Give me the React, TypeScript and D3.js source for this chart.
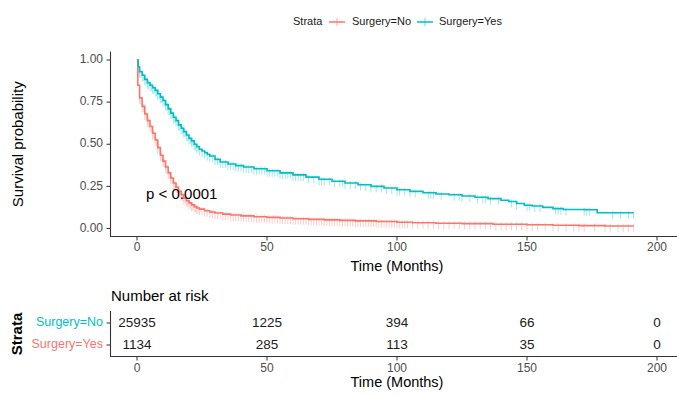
import React from 'react';
import * as d3 from 'd3';

// Kaplan-Meier estimates (months, survival probability)
const noTimes = [0, 0.3, 1, 2, 3, 4, 5, 6, 7, 8, 9, 10, 11, 12, 13, 14, 15, 16, 17, 18, 19, 20, 21, 22, 23, 24, 26, 28, 30, 33, 36, 40, 45, 50, 55, 60, 66, 72, 78, 84, 92, 100, 106, 115, 125, 137, 150, 160, 170, 180, 191];
const noSurv = [1.0, 0.85, 0.775, 0.725, 0.68, 0.64, 0.605, 0.565, 0.525, 0.48, 0.435, 0.40, 0.365, 0.33, 0.30, 0.27, 0.245, 0.22, 0.20, 0.18, 0.165, 0.152, 0.14, 0.13, 0.122, 0.115, 0.105, 0.098, 0.092, 0.085, 0.08, 0.075, 0.07, 0.066, 0.062, 0.058, 0.054, 0.051, 0.048, 0.045, 0.041, 0.037, 0.034, 0.031, 0.029, 0.025, 0.022, 0.019, 0.017, 0.015, 0.015];

const yesTimes = [0, 0.5, 1, 2, 3, 4, 5, 6, 7, 8, 9, 10, 11, 12, 13, 14, 15, 16, 17, 18, 19, 20, 21, 22, 23, 24, 25, 26, 27, 28, 30, 32, 35, 38, 41, 45, 50, 55, 60, 65, 70, 75, 80, 85, 90, 95, 100, 105, 110, 115, 120, 125, 130, 135, 140, 143, 146, 149, 152, 156, 160, 164, 172, 177, 191];
const yesSurv = [1.0, 0.96, 0.93, 0.91, 0.885, 0.865, 0.85, 0.835, 0.82, 0.80, 0.78, 0.76, 0.735, 0.71, 0.685, 0.66, 0.64, 0.615, 0.595, 0.575, 0.555, 0.535, 0.52, 0.50, 0.485, 0.47, 0.46, 0.45, 0.44, 0.43, 0.41, 0.395, 0.383, 0.373, 0.365, 0.355, 0.343, 0.33, 0.318, 0.305, 0.292, 0.28, 0.27, 0.26, 0.25, 0.24, 0.23, 0.22, 0.212, 0.205, 0.20, 0.193, 0.185, 0.177, 0.168, 0.16, 0.148, 0.138, 0.133, 0.125, 0.118, 0.113, 0.111, 0.093, 0.093];

// censoring times (months)
const noCensor = [
  1, 1.5, 2, 2.5, 3, 3.5, 4, 4.5, 5, 5.5, 6, 6.5, 7, 7.5, 8, 8.5, 9, 9.5, 10, 10.5, 11, 11.5, 12, 12.5, 13, 13.5,
  14, 14.5, 15, 15.5, 16, 16.5, 17, 17.5, 18, 18.5, 19, 19.5, 20, 20.5, 21, 21.5, 22, 22.5, 23, 23.5, 24, 25, 26,
  27, 28, 29, 30, 31, 32, 33, 34, 35, 36, 37, 38, 39, 40, 41, 42, 43, 44, 45, 46, 47, 48, 49, 50, 51, 52, 53, 54,
  55, 56, 57, 58, 59, 60, 61, 62, 63, 64, 65, 66, 67, 68, 69, 70, 71, 72, 73, 74, 75, 76, 77, 78, 79, 80, 81, 82,
  83, 84, 85, 86, 87, 88, 89, 90, 91, 92, 93, 94, 95, 96, 97, 98, 99, 100, 101, 102, 103, 104, 106, 108, 110, 112,
  114, 116, 118, 120, 122, 124, 126, 128, 130, 132, 134, 136, 138, 140, 142, 144, 146, 148, 150, 152, 154, 157,
  160, 162, 165, 168, 170, 172, 176, 180, 182, 185, 187, 189, 191,
];
const yesCensor = [
  1, 1.5, 2, 2.5, 3, 3.5, 4, 4.5, 5, 5.5, 6, 6.5, 7, 7.5, 8, 8.5, 9, 9.5, 10, 10.5, 11, 11.5, 12, 12.5, 13, 13.5,
  14, 14.5, 15, 15.5, 16, 16.5, 17, 17.5, 18, 18.5, 19, 19.5, 20, 20.5, 21, 21.5, 22, 22.5, 23, 23.5, 24, 25, 26,
  27, 28, 29, 30, 31, 32, 33, 34, 35, 36, 37, 38, 39, 40, 41, 42, 43, 44, 45, 46, 47, 48, 49, 50, 51, 52, 53, 54,
  55, 56, 57, 58, 59, 60, 61, 62, 63, 64, 66, 68, 70, 71, 72, 74, 76, 78, 79, 80, 82, 84, 86, 88, 90, 92, 94, 96,
  98, 100, 101, 103, 105, 107, 112, 113, 114, 117, 122, 124, 125, 128, 131, 133, 134, 136, 139, 144, 146, 150,
  151, 153, 155, 161, 162, 163, 165, 172, 173, 174, 183, 186, 189, 191,
];

const xTicks = [0, 50, 100, 150, 200];
const yTicks = [0, 0.25, 0.5, 0.75, 1];
const strata = ['Surgery=No', 'Surgery=Yes'];
const riskNo = [25935, 1225, 394, 66, 0];
const riskYes = [1134, 285, 113, 35, 0];

const RED = '#F8766D';
const CYAN = '#00BFC4';
const FONT = '"Liberation Sans", Arial, sans-serif';
const AXIS = '#333333';

const App = () => {
  const x = d3.scaleLinear().domain([-10, 210]).range([111, 683]);
  const y = d3.scaleLinear().domain([-0.05, 1.05]).range([236.9, 51.6]);
  const rowY = d3.scalePoint().domain(strata).range([323, 345]);

  const line = d3.line<[number, number]>()
    .x(d => x(d[0]))
    .y(d => y(d[1]))
    .curve(d3.curveStepAfter);

  const curves = [
    { times: noTimes, surv: noSurv, censor: noCensor, color: RED },
    { times: yesTimes, surv: yesSurv, censor: yesCensor, color: CYAN },
  ];

  // survival value at time t (step function)
  const survAt = (times: number[], surv: number[], t: number) => {
    const i = d3.bisectRight(times, t) - 1;
    return surv[Math.max(0, i)];
  };

  const riskRows = [
    { name: 'Surgery=No', values: riskNo, labelColor: CYAN },
    { name: 'Surgery=Yes', values: riskYes, labelColor: RED },
  ];

  return (
    <svg width={677} height={395} style={{ display: 'block', position: 'absolute', left: 0, top: 0, background: '#fff' }} fontFamily={FONT}>
      {/* legend */}
      <g fontSize={11} fill="#1a1a1a">
        <text x={293} y={22} dominantBaseline="middle">Strata</text>
        <line x1={329} x2={345} y1={22} y2={22} stroke={RED} strokeWidth={1.5} />
        <line x1={337} x2={337} y1={18} y2={26} stroke={RED} strokeWidth={1} opacity={0.6} />
        <text x={352} y={22} dominantBaseline="middle">Surgery=No</text>
        <line x1={417} x2={433} y1={22} y2={22} stroke={CYAN} strokeWidth={1.5} />
        <line x1={425} x2={425} y1={18} y2={26} stroke={CYAN} strokeWidth={1} opacity={0.6} />
        <text x={439} y={22} dominantBaseline="middle">Surgery=Yes</text>
      </g>

      {/* censor marks */}
      {curves.map((c, ci) => (
        <g key={'c' + ci} stroke={c.color} strokeWidth={0.9} opacity={0.4}>
          {c.censor.map((t, i) => {
            const s = survAt(c.times, c.surv, t);
            return <line key={i} x1={x(t)} x2={x(t)} y1={y(s) - 2} y2={y(s) + 6} />;
          })}
        </g>
      ))}

      {/* survival curves */}
      {curves.map((c, ci) => (
        <path key={'l' + ci}
          d={line(c.times.map((t, i) => [t, c.surv[i]] as [number, number])) || ''}
          fill="none" stroke={c.color} strokeWidth={1.6} />
      ))}

      {/* axes of the survival plot */}
      <line x1={110.5} x2={110.5} y1={51.6} y2={237} stroke={AXIS} strokeWidth={1.1} />
      <line x1={110} x2={677} y1={236.5} y2={236.5} stroke={AXIS} strokeWidth={1.1} />
      {yTicks.map(t => (
        <g key={'y' + t}>
          <line x1={106.5} x2={110.5} y1={y(t)} y2={y(t)} stroke={AXIS} strokeWidth={1} />
          <text x={103} y={y(t)} textAnchor="end" dominantBaseline="middle" fontSize={12} fill="#4d4d4d">{t.toFixed(2)}</text>
        </g>
      ))}
      {xTicks.map(t => (
        <g key={'x' + t}>
          <line x1={x(t)} x2={x(t)} y1={236.5} y2={240.5} stroke={AXIS} strokeWidth={1} />
          <text x={x(t)} y={248} textAnchor="middle" dominantBaseline="middle" fontSize={12} fill="#4d4d4d">{t}</text>
        </g>
      ))}
      <text x={x(100)} y={267} textAnchor="middle" dominantBaseline="middle" fontSize={14.5} fill="#000">Time (Months)</text>
      <text transform={`translate(19,${y(0.5)}) rotate(-90)`} textAnchor="middle" dominantBaseline="middle" fontSize={15} fill="#000">Survival probability</text>
      <text x={x(3.5)} y={y(0.2)} dominantBaseline="middle" fontSize={15} fill="#000">p &lt; 0.0001</text>

      {/* number at risk table */}
      <text x={111} y={297} dominantBaseline="middle" fontSize={15} fill="#000">Number at risk</text>
      <line x1={110.5} x2={110.5} y1={311} y2={357} stroke={AXIS} strokeWidth={1.1} />
      <line x1={110} x2={677} y1={356.5} y2={356.5} stroke={AXIS} strokeWidth={1.1} />
      {riskRows.map(r => (
        <g key={r.name}>
          <line x1={106.5} x2={110.5} y1={rowY(r.name)} y2={rowY(r.name)} stroke={AXIS} strokeWidth={1} />
          <text x={103} y={rowY(r.name)} textAnchor="end" dominantBaseline="middle" fontSize={12.5} fill={r.labelColor}>{r.name}</text>
          {r.values.map((v, i) => (
            <text key={i} x={x(xTicks[i])} y={rowY(r.name)} textAnchor="middle" dominantBaseline="middle" fontSize={13.5} fill="#1a1a1a">{v}</text>
          ))}
        </g>
      ))}
      {xTicks.map(t => (
        <g key={'rx' + t}>
          <line x1={x(t)} x2={x(t)} y1={356.5} y2={360.5} stroke={AXIS} strokeWidth={1} />
          <text x={x(t)} y={369} textAnchor="middle" dominantBaseline="middle" fontSize={12} fill="#4d4d4d">{t}</text>
        </g>
      ))}
      <text x={x(100)} y={383} textAnchor="middle" dominantBaseline="middle" fontSize={14.5} fill="#000">Time (Months)</text>
      <text transform="translate(18,334) rotate(-90)" textAnchor="middle" dominantBaseline="middle" fontSize={15} fontWeight="bold" fill="#000">Strata</text>
    </svg>
  );
};

export default App;
